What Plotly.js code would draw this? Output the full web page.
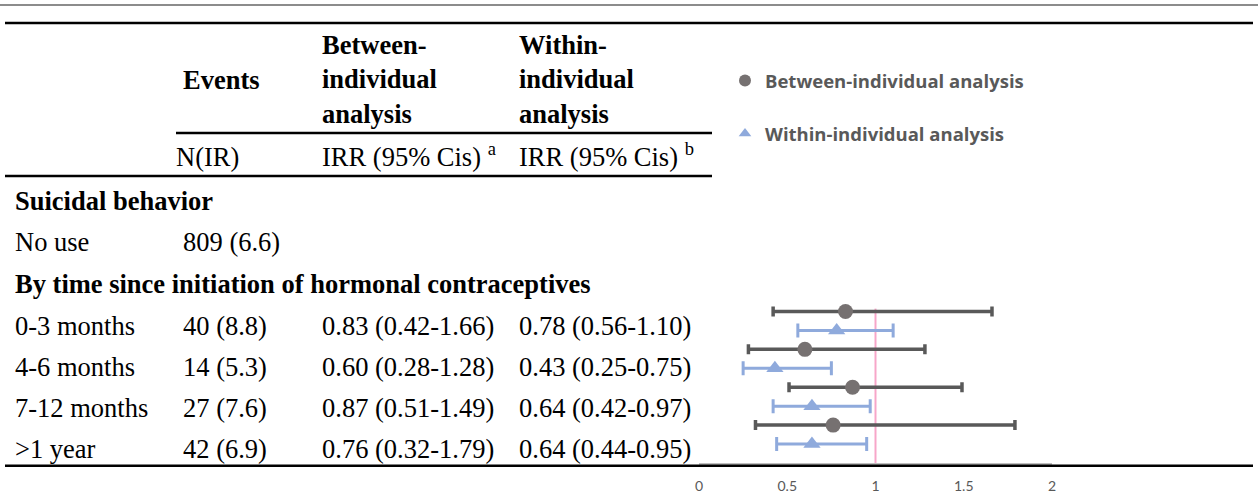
<!DOCTYPE html>
<html>
<head>
<meta charset="utf-8">
<script src="https://cdn.plot.ly/plotly-3.0.1.min.js"></script>
<style>html,body{margin:0;padding:0;background:#fff}#chart{width:1258px;height:493px}</style>
</head>
<body>
<div id="chart"></div>
<script>
// ---- data ----
const rowLabels = ["0-3 months", "4-6 months", "7-12 months", ">1 year"];
const eventsN = [40, 14, 27, 42];
const eventsIR = [8.8, 5.3, 7.6, 6.9];
const noUseN = 809;
const noUseIR = 6.6;
const betweenIRR = [0.83, 0.60, 0.87, 0.76];
const betweenLo = [0.42, 0.28, 0.51, 0.32];
const betweenHi = [1.66, 1.28, 1.49, 1.79];
const withinIRR = [0.78, 0.43, 0.64, 0.64];
const withinLo = [0.56, 0.25, 0.42, 0.44];
const withinHi = [1.10, 0.75, 0.97, 0.95];
const xTickVals = [0, 0.5, 1, 1.5, 2];
const xTickText = ["0", "0.5", "1", "1.5", "2"];
const seriesNames = ["Between-individual analysis", "Within-individual analysis"];

// ---- helpers ----
const W = 1258, H = 493, MB = 30;
const PH = H - MB;               // plot-area height (paper coords span this)
const px = x => x / W;
const py = y => (PH - y) / PH;
const f2 = v => v.toFixed(2);
const ci = (e, l, h) => `${f2(e)} (${f2(l)}-${f2(h)})`;

const catB = rowLabels.map(r => r + " B");
const catW = rowLabels.map(r => r + " W");
const catOrder = [];
for (let i = rowLabels.length - 1; i >= 0; i--) { catOrder.push(catW[i]); catOrder.push(catB[i]); }

const darkGray = "#595959", circGray = "#767171", blue = "#8FAADC";

const traces = [
  {
    type: "scatter", mode: "markers", x: betweenIRR, y: catB, showlegend: false,
    marker: {symbol: "circle", size: 15, color: circGray},
    error_x: {type: "data", symmetric: false,
      array: betweenHi.map((h, i) => h - betweenIRR[i]),
      arrayminus: betweenLo.map((l, i) => betweenIRR[i] - l),
      color: darkGray, thickness: 3.5, width: 5}
  },
  {
    type: "scatter", mode: "markers", x: withinIRR, y: catW, showlegend: false,
    marker: {symbol: "triangle-up", size: 15, color: blue},
    error_x: {type: "data", symmetric: false,
      array: withinHi.map((h, i) => h - withinIRR[i]),
      arrayminus: withinLo.map((l, i) => withinIRR[i] - l),
      color: blue, thickness: 3, width: 7}
  },
  {type: "scatter", mode: "markers", x: [null], y: [null], name: seriesNames[0], legendgroup: "a",
    marker: {symbol: "circle", size: 12, color: circGray}},
  {type: "scatter", mode: "markers", x: [null], y: [null], name: seriesNames[1], legendgroup: "b",
    marker: {symbol: "triangle-up", size: 11, color: blue}}
];

const serif = "Liberation Serif, Times New Roman, serif";
const FS = 26.5;
const annotations = [];
function ann(text, x, y, bold) {
  annotations.push({text: text, x: px(x), y: py(y), xref: "paper", yref: "paper",
    xanchor: "left", yanchor: "middle", showarrow: false, align: "left",
    font: {family: serif, size: FS, color: "#000", weight: bold ? "bold" : "normal"}});
}
ann("Events", 181, 80, true);
ann("Between-<br>individual<br>analysis", 320, 79, true);
ann("Within-<br>individual<br>analysis", 517, 79, true);
ann("N(IR)", 174, 157);
ann("IRR (95% Cis) <sup>a</sup>", 320, 155);
ann("IRR (95% Cis) <sup>b</sup>", 517, 155);
ann("Suicidal behavior", 13, 201, true);
ann("No use", 13, 242);
ann(`${noUseN} (${noUseIR.toFixed(1)})`, 181, 242);
ann("By time since initiation of hormonal contraceptives", 13, 284, true);
const rowY = [326, 367, 408, 449];
rowLabels.forEach((r, i) => {
  ann(r, 13, rowY[i]);
  ann(`${eventsN[i]} (${eventsIR[i].toFixed(1)})`, 181, rowY[i]);
  ann(ci(betweenIRR[i], betweenLo[i], betweenHi[i]), 320, rowY[i]);
  ann(ci(withinIRR[i], withinLo[i], withinHi[i]), 517, rowY[i]);
});

function hline(x0, x1, y, color, w) {
  return {type: "line", xref: "paper", yref: "paper", x0: px(x0), x1: px(x1), y0: py(y), y1: py(y),
    line: {color: color, width: w}, layer: "above"};
}
const shapes = [
  hline(0, 1258, 5, "#8C8C8C", 2),
  hline(5, 1253, 23, "#000", 2.5),
  hline(176, 712, 133, "#000", 2.5),
  hline(5, 712, 176, "#000", 2.5),
  hline(5, 1253, 465.8, "#000", 2.5),
  {type: "line", xref: "x", yref: "y", x0: 1, x1: 1, y0: -1, y1: 7.15,
    line: {color: "#F7A6C9", width: 2}, layer: "below"}
];

const layout = {
  width: W, height: H,
  margin: {l: 0, r: 0, t: 0, b: MB, pad: 0},
  paper_bgcolor: "#fff", plot_bgcolor: "rgba(0,0,0,0)",
  xaxis: {domain: [px(699), px(1052)], range: [0, 2], tickvals: xTickVals, ticktext: xTickText,
    showgrid: false, zeroline: false, showline: true, linecolor: "#BFBFBF", linewidth: 2,
    ticks: "", ticklabelstandoff: 9, tickfont: {family: "Lato, sans-serif", size: 14, color: darkGray},
    fixedrange: true},
  yaxis: {domain: [py(463.5), py(302)], type: "category", categoryorder: "array", categoryarray: catOrder,
    range: [-1, 7.5], showgrid: false, zeroline: false, showline: false, showticklabels: false,
    ticks: "", fixedrange: true},
  showlegend: true,
  legend: {x: px(725), y: py(62), xanchor: "left", yanchor: "top", bgcolor: "rgba(0,0,0,0)",
    traceorder: "grouped", tracegroupgap: 26, itemwidth: 30,
    font: {family: "Open Sans, sans-serif", size: 18.5, color: darkGray, weight: "bold"}},
  annotations: annotations,
  shapes: shapes
};

Plotly.newPlot("chart", traces, layout, {staticPlot: true, displayModeBar: false});
</script>
</body>
</html>
